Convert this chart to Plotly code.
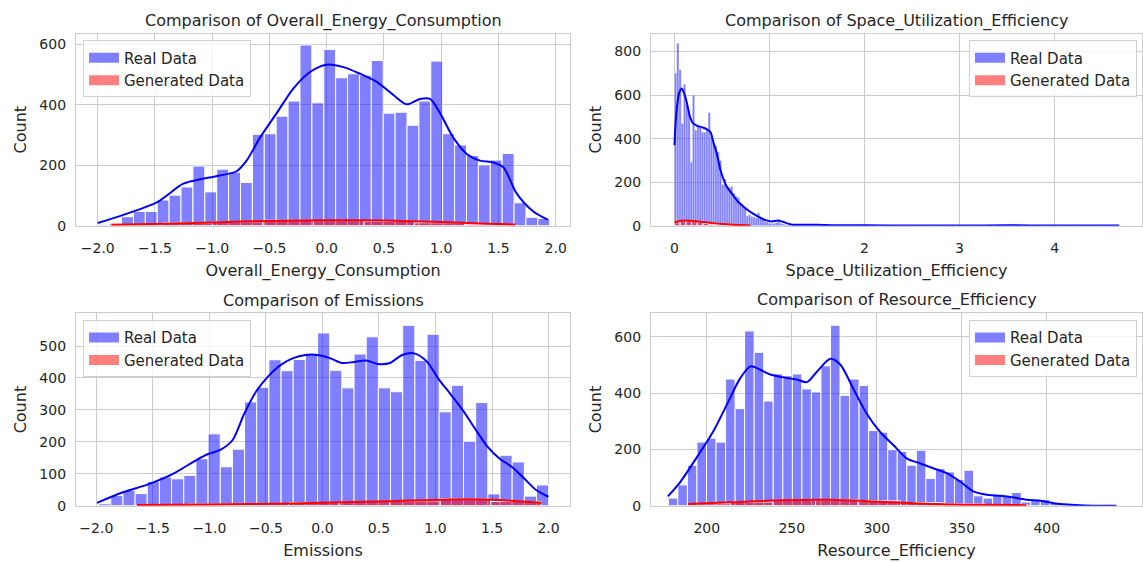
import plotly.graph_objects as go

# ---------------- data ----------------
# Overall_Energy_Consumption
oec_real_start, oec_real_width = -2.0, 0.1039
oec_real_counts = [3, 8, 30, 47, 47, 85, 101, 128, 197, 112, 187, 177, 143, 302, 304, 362, 412, 597, 406, 582,
                   489, 502, 497, 546, 372, 375, 332, 412, 544, 304, 267, 232, 201, 217, 239, 76, 28, 24]
oec_gen_start, oec_gen_width = -1.88, 0.441
oec_gen_counts = [4, 9, 13, 18, 17, 15, 10, 5]
oec_real_kde_x = [-2.0, -1.776, -1.485, -1.253, -1.122, -0.932, -0.787, -0.70, -0.583, -0.437, -0.292, -0.146,
                  0.0, 0.146, 0.291, 0.437, 0.582, 0.699, 0.815, 0.902, 0.99, 1.106, 1.223, 1.339, 1.456, 1.543,
                  1.66, 1.805, 1.93]
oec_real_kde_y = [9, 36, 77, 139, 152, 166, 180, 215, 291, 372, 453, 508, 532, 524, 502, 475, 432, 401, 419, 419,
                  372, 291, 237, 215, 209, 193, 106, 47, 20]
oec_gen_kde_x = [-1.88, -1.5, -1.0, -0.5, 0.0, 0.5, 1.0, 1.4, 1.65]
oec_gen_kde_y = [3, 6, 11, 16, 18, 17, 12, 7, 4]

# Space_Utilization_Efficiency
sue_real_start, sue_real_width = 0.0, 0.0236
sue_real_counts = [700, 838, 717, 470, 650, 560, 530, 292, 600, 440,
                   460, 450, 430, 430, 440, 520, 410, 380, 368, 340,
                   300, 190, 215, 180, 175, 180, 150, 135, 130, 95,
                   90, 85, 45, 50, 42, 40, 35, 60, 35, 30,
                   20, 18, 10, 12, 10, 15, 20, 12, 8, 6,
                   5, 4, 4, 3, 3, 2, 3, 2, 2, 1,
                   2, 3, 2, 1, 2, 1, 1, 2, 1, 1, 1, 0, 1, 1, 0, 1, 1, 0, 1, 0,
                   1, 0, 1, 1, 0, 0, 1, 0, 1, 0, 0, 1, 0, 0, 0, 1, 0, 0, 1, 0,
                   0, 0, 1, 0, 0, 0, 0, 1, 0, 0, 0, 0, 1, 0, 0, 0, 0, 0, 1, 0,
                   0, 0, 0, 1, 0, 0, 0, 0, 0, 1, 0, 0, 0, 0, 0, 0, 1, 0, 0, 0,
                   1, 0, 1, 0, 1, 1, 0, 0, 1, 0, 0, 0, 1, 0, 0, 0, 0, 1, 0, 0,
                   0, 1, 0, 0, 0, 0, 0, 0, 1, 0, 0, 0, 0, 0, 1, 0, 0, 0, 0, 0,
                   0, 1, 0, 0, 0, 0, 0, 1, 0, 0, 0, 0, 0, 0, 0, 0, 0, 0, 0, 1]
sue_gen_start, sue_gen_width = 0.0, 0.06
sue_gen_counts = [14, 21, 23, 19, 15, 11, 7, 5, 3, 2]
sue_real_kde_x = [0.0, 0.02, 0.05, 0.076, 0.10, 0.128, 0.16, 0.19, 0.24, 0.30, 0.35, 0.38, 0.41, 0.45, 0.48,
                  0.52, 0.55, 0.60, 0.67, 0.74, 0.81, 0.88, 0.95, 1.02, 1.09, 1.14, 1.23, 1.37, 1.5, 1.7, 2.0,
                  2.5, 3.0, 3.5, 4.0, 4.68]
sue_real_kde_y = [370, 520, 610, 630, 610, 570, 505, 474, 459, 451, 441, 429, 383, 323, 262,
                  209, 180, 150, 110, 83, 60, 42, 27, 20, 24, 18, 6, 4, 5, 2, 2,
                  1, 1, 2, 1, 1]
sue_gen_kde_x = [0.0, 0.05, 0.12, 0.2, 0.3, 0.4, 0.5, 0.6, 0.7, 0.8]
sue_gen_kde_y = [15, 21, 24, 22, 17, 12, 8, 5, 3, 1]

# Emissions
em_real_start, em_real_width = -1.98, 0.1076
em_real_counts = [6, 32, 48, 38, 76, 90, 84, 95, 147, 225, 122, 177, 325, 371, 457, 423, 458, 475, 541, 424,
                  369, 475, 529, 369, 357, 565, 455, 537, 294, 377, 202, 323, 37, 158, 137, 30, 65]
em_gen_start, em_gen_width = -1.64, 0.447
em_gen_counts = [3, 5, 7, 10, 13, 15, 21, 13]
em_real_kde_x = [-1.994, -1.764, -1.548, -1.336, -1.115, -1.011, -0.908, -0.796, -0.693, -0.584, -0.48, -0.368,
                 -0.259, -0.150, -0.044, 0.066, 0.169, 0.278, 0.385, 0.488, 0.597, 0.706, 0.812, 0.922, 1.031,
                 1.134, 1.246, 1.35, 1.462, 1.565, 1.674, 1.783, 1.887, 2.0]
em_real_kde_y = [9, 42, 66, 97, 143, 162, 174, 205, 287, 359, 405, 441, 462, 472, 472, 462, 447, 450, 455, 444,
                 447, 472, 477, 452, 395, 349, 297, 241, 184, 148, 122, 86, 50, 28]
em_gen_kde_x = [-1.64, -1.0, -0.3, 0.14, 0.59, 1.0, 1.3, 1.6, 1.94]
em_gen_kde_y = [2, 4, 7, 11, 14, 18, 20, 17, 9]

# Resource_Efficiency
re_real_start, re_real_width = 177.4, 5.61
re_real_counts = [27, 74, 144, 226, 240, 226, 450, 345, 621, 545, 372, 468, 462, 468, 415, 404, 497, 641, 392, 450,
                  427, 267, 261, 199, 193, 144, 197, 97, 132, 120, 94, 126, 35, 27, 39, 35, 47, 13, 23, 21,
                  9, 5, 2, 2, 1, 0, 1]
re_gen_start, re_gen_width = 189.0, 25.0
re_gen_counts = [7, 13, 19, 21, 17, 11, 6, 3]
re_real_kde_x = [177.1, 184.5, 194.3, 204.1, 211.9, 219.8, 225.7, 231.5, 237.4, 245.2, 253.1, 259.0, 264.9,
                 272.7, 278.6, 286.4, 294.3, 302.1, 310.0, 317.8, 325.7, 333.5, 341.4, 349.2, 357.1, 364.9,
                 372.8, 380.6, 388.4, 396.3, 404.1, 412.0, 422.7, 441.0]
re_real_kde_y = [33, 85, 173, 267, 360, 454, 495, 483, 466, 456, 448, 439, 477, 522, 501, 413, 325, 261, 214,
                 167, 150, 132, 115, 85, 50, 39, 35, 29, 21, 18, 9, 4, 1, 0]
re_gen_kde_x = [189, 214, 243, 273, 302, 332, 360, 388]
re_gen_kde_y = [6, 12, 19, 21, 14, 6, 3, 2]

panels = [
    dict(name="Overall_Energy_Consumption", rs=oec_real_start, rw=oec_real_width, rc=oec_real_counts,
         gs=oec_gen_start, gw=oec_gen_width, gc=oec_gen_counts,
         rkx=oec_real_kde_x, rky=oec_real_kde_y, gkx=oec_gen_kde_x, gky=oec_gen_kde_y,
         xr=[-2.19, 2.125], yr=[0, 635], xt=[-2.0, -1.5, -1.0, -0.5, 0.0, 0.5, 1.0, 1.5, 2.0], xf=".1f",
         yt=[0, 200, 400, 600], legend_side="left", edge=1.0),
    dict(name="Space_Utilization_Efficiency", rs=sue_real_start, rw=sue_real_width, rc=sue_real_counts,
         gs=sue_gen_start, gw=sue_gen_width, gc=sue_gen_counts,
         rkx=sue_real_kde_x, rky=sue_real_kde_y, gkx=sue_gen_kde_x, gky=sue_gen_kde_y,
         xr=[-0.247, 4.92], yr=[0, 883], xt=[0, 1, 2, 3, 4], xf="d",
         yt=[0, 200, 400, 600, 800], legend_side="right", edge=0.3),
    dict(name="Emissions", rs=em_real_start, rw=em_real_width, rc=em_real_counts,
         gs=em_gen_start, gw=em_gen_width, gc=em_gen_counts,
         rkx=em_real_kde_x, rky=em_real_kde_y, gkx=em_gen_kde_x, gky=em_gen_kde_y,
         xr=[-2.18, 2.19], yr=[0, 602], xt=[-2.0, -1.5, -1.0, -0.5, 0.0, 0.5, 1.0, 1.5, 2.0], xf=".1f",
         yt=[0, 100, 200, 300, 400, 500], legend_side="left", edge=1.0),
    dict(name="Resource_Efficiency", rs=re_real_start, rw=re_real_width, rc=re_real_counts,
         gs=re_gen_start, gw=re_gen_width, gc=re_gen_counts,
         rkx=re_real_kde_x, rky=re_real_kde_y, gkx=re_gen_kde_x, gky=re_gen_kde_y,
         xr=[167.2, 456], yr=[0, 683], xt=[200, 250, 300, 350, 400], xf="d",
         yt=[0, 200, 400, 600], legend_side="right", edge=1.0),
]

# ---------------- layout geometry (pixels of the 1143x562 page) ----------------
W, H = 1143, 562
col_px = [(76, 570), (651, 1142)]
row_px = [(34, 229), (318, 513)]

TXT = "#262626"
GRID = "#cccccc"
FONT = "DejaVu Sans"
BLUE_FILL = "rgba(0,0,255,0.5)"
RED_FILL = "rgba(255,0,0,0.5)"

fig = go.Figure()
annotations = []
layout = {}

for k, p in enumerate(panels):
    r, c = divmod(k, 2)
    idx = "" if k == 0 else str(k + 1)
    xa, ya = "x" + idx, "y" + idx
    leg = "legend" + idx

    rx = [p["rs"] + (i + 0.5) * p["rw"] for i in range(len(p["rc"]))]
    gx = [p["gs"] + (i + 0.5) * p["gw"] for i in range(len(p["gc"]))]

    fig.add_trace(go.Bar(x=rx, y=p["rc"], width=[p["rw"]] * len(rx), xaxis=xa, yaxis=ya,
                         marker=dict(color=BLUE_FILL, line=dict(color="white", width=p["edge"])),
                         showlegend=False, hoverinfo="x+y"))
    fig.add_trace(go.Scatter(x=p["rkx"], y=p["rky"], mode="lines", xaxis=xa, yaxis=ya,
                             line=dict(color="blue", width=2, shape="spline", smoothing=0.8),
                             showlegend=False))
    fig.add_trace(go.Bar(x=gx, y=p["gc"], width=[p["gw"]] * len(gx), xaxis=xa, yaxis=ya,
                         marker=dict(color=RED_FILL, line=dict(color="white", width=1)),
                         showlegend=False, hoverinfo="x+y"))
    fig.add_trace(go.Scatter(x=p["gkx"], y=p["gky"], mode="lines", xaxis=xa, yaxis=ya,
                             line=dict(color="red", width=2, shape="spline", smoothing=0.8),
                             showlegend=False))
    # legend entries (patch-like swatches)
    fig.add_trace(go.Scatter(x=[None], y=[None], xaxis=xa, yaxis=ya, mode="lines",
                             line=dict(width=10, color=BLUE_FILL),
                             name="Real Data", legend=leg))
    fig.add_trace(go.Scatter(x=[None], y=[None], xaxis=xa, yaxis=ya, mode="lines",
                             line=dict(width=10, color=RED_FILL),
                             name="Generated Data", legend=leg))

    x0, x1 = col_px[c]
    yt0, yb0 = row_px[r]
    xdom = [x0 / W, x1 / W]
    ydom = [1 - yb0 / H, 1 - yt0 / H]

    common = dict(showgrid=True, gridcolor=GRID, gridwidth=1, showline=True, linecolor=GRID, linewidth=1.3,
                  mirror=True, zeroline=False, ticks="", tickfont=dict(size=14, color=TXT, family=FONT))
    layout["xaxis" + idx] = dict(domain=xdom, anchor=ya, range=p["xr"], tickvals=p["xt"], tickformat=p["xf"],
                                 title=dict(text=p["name"], font=dict(size=16, color=TXT, family=FONT), standoff=10),
                                 ticklabelstandoff=9, **common)
    layout["yaxis" + idx] = dict(domain=ydom, anchor=xa, range=p["yr"], tickvals=p["yt"],
                                 title=dict(text="Count", font=dict(size=16, color=TXT, family=FONT), standoff=8),
                                 ticklabelstandoff=6, **common)

    if p["legend_side"] == "left":
        lx, lxa = (x0 + 7) / W, "left"
    else:
        lx, lxa = (x1 - 5) / W, "right"
    layout[leg] = dict(x=lx, xanchor=lxa, y=1 - (yt0 + 7) / H, yanchor="top",
                       bgcolor="rgba(255,255,255,0.8)", bordercolor="#d0d0d0", borderwidth=1,
                       font=dict(size=15, color=TXT, family=FONT), tracegroupgap=0, itemwidth=30)

    annotations.append(dict(text="Comparison of " + p["name"], x=(xdom[0] + xdom[1]) / 2, y=ydom[1],
                            xref="paper", yref="paper", xanchor="center", yanchor="bottom", yshift=1,
                            showarrow=False, font=dict(size=16, color=TXT, family=FONT)))

fig.update_layout(width=W, height=H, margin=dict(l=0, r=0, t=0, b=0), autosize=False,
                  paper_bgcolor="white", plot_bgcolor="white", barmode="overlay",
                  font=dict(family=FONT, color=TXT), annotations=annotations, **layout)

fig.write_html("out.html")
